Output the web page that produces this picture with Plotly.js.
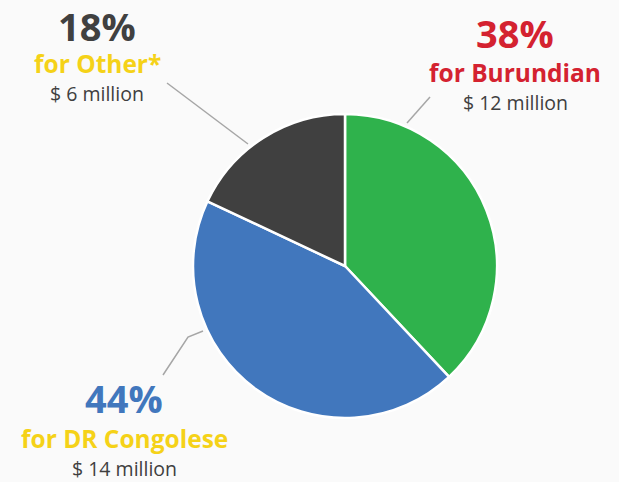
<!DOCTYPE html>
<html>
<head>
<meta charset="utf-8">
<script src="https://cdn.plot.ly/plotly-3.0.1.min.js"></script>
<style>html,body{margin:0;padding:0;background:#fafafa;}#chart{width:619px;height:482px;}</style>
</head>
<body>
<div id="chart"></div>
<script>
// Data
var groups = ["Burundian", "DR Congolese", "Other*"];
var percents = [38, 44, 18];
var amounts = ["$ 12 million", "$ 14 million", "$ 6 million"];

// Styles
var sliceColors = ["#2fb24c", "#4177bd", "#404040"];
var pctColors = ["#d42230", "#4177bd", "#404040"];
var nameColors = ["#d42230", "#f5d218", "#f5d218"];

var W = 619, H = 482;
function px(x) { return x / W; }
function py(y) { return 1 - y / H; }

// label anchor positions (pixels): [x, yPct, yName, yAmount]
var labelPos = [
  [515, 33, 72, 102],
  [124, 398, 438, 468],
  [97, 26, 64, 94]
];

var annotations = [];
var fontFam = "'Open Sans', 'Noto Sans', sans-serif";
for (var i = 0; i < groups.length; i++) {
  var p = labelPos[i];
  annotations.push({xref:'paper', yref:'paper', x:px(p[0]), y:py(p[1]), xanchor:'center', yanchor:'middle', borderpad:0,
    text:'<b>' + percents[i] + '%</b>', showarrow:false, font:{family:fontFam, size:38, color:pctColors[i]}});
  annotations.push({xref:'paper', yref:'paper', x:px(p[0]), y:py(p[2]), xanchor:'center', yanchor:'middle', borderpad:0,
    text:'<b>for ' + groups[i] + '</b>', showarrow:false, font:{family:fontFam, size:24.5, color:nameColors[i]}});
  annotations.push({xref:'paper', yref:'paper', x:px(p[0]), y:py(p[3]), xanchor:'center', yanchor:'middle', borderpad:0,
    text:amounts[i], showarrow:false, font:{family:fontFam, size:19.5, color:'#3f3f3f'}});
}

function pathFrom(pts) {
  return pts.map(function (q, k) { return (k ? 'L' : 'M') + px(q[0]) + ',' + py(q[1]); }).join(' ');
}
var leaders = [
  [[430, 97], [407, 123]],
  [[163, 375], [188, 337], [203, 331]],
  [[167, 83], [248, 144]]
];
var shapes = leaders.map(function (pts) {
  return {type:'path', xref:'paper', yref:'paper', path:pathFrom(pts), line:{color:'#a6a6a6', width:1.5}};
});

var trace = {
  type: 'pie',
  labels: groups,
  values: percents,
  sort: false,
  direction: 'clockwise',
  rotation: 0,
  textinfo: 'none',
  hoverinfo: 'skip',
  marker: {colors: sliceColors, line: {color: '#ffffff', width: 2.5}},
  domain: {x: [px(193), px(497)], y: [py(418), py(114)]},
  showlegend: false
};

var layout = {
  width: W, height: H,
  margin: {l:0, r:0, t:0, b:0},
  paper_bgcolor: '#fafafa',
  plot_bgcolor: '#fafafa',
  showlegend: false,
  annotations: annotations,
  shapes: shapes
};

Plotly.newPlot('chart', [trace], layout, {displayModeBar:false, staticPlot:true});
</script>
</body>
</html>
